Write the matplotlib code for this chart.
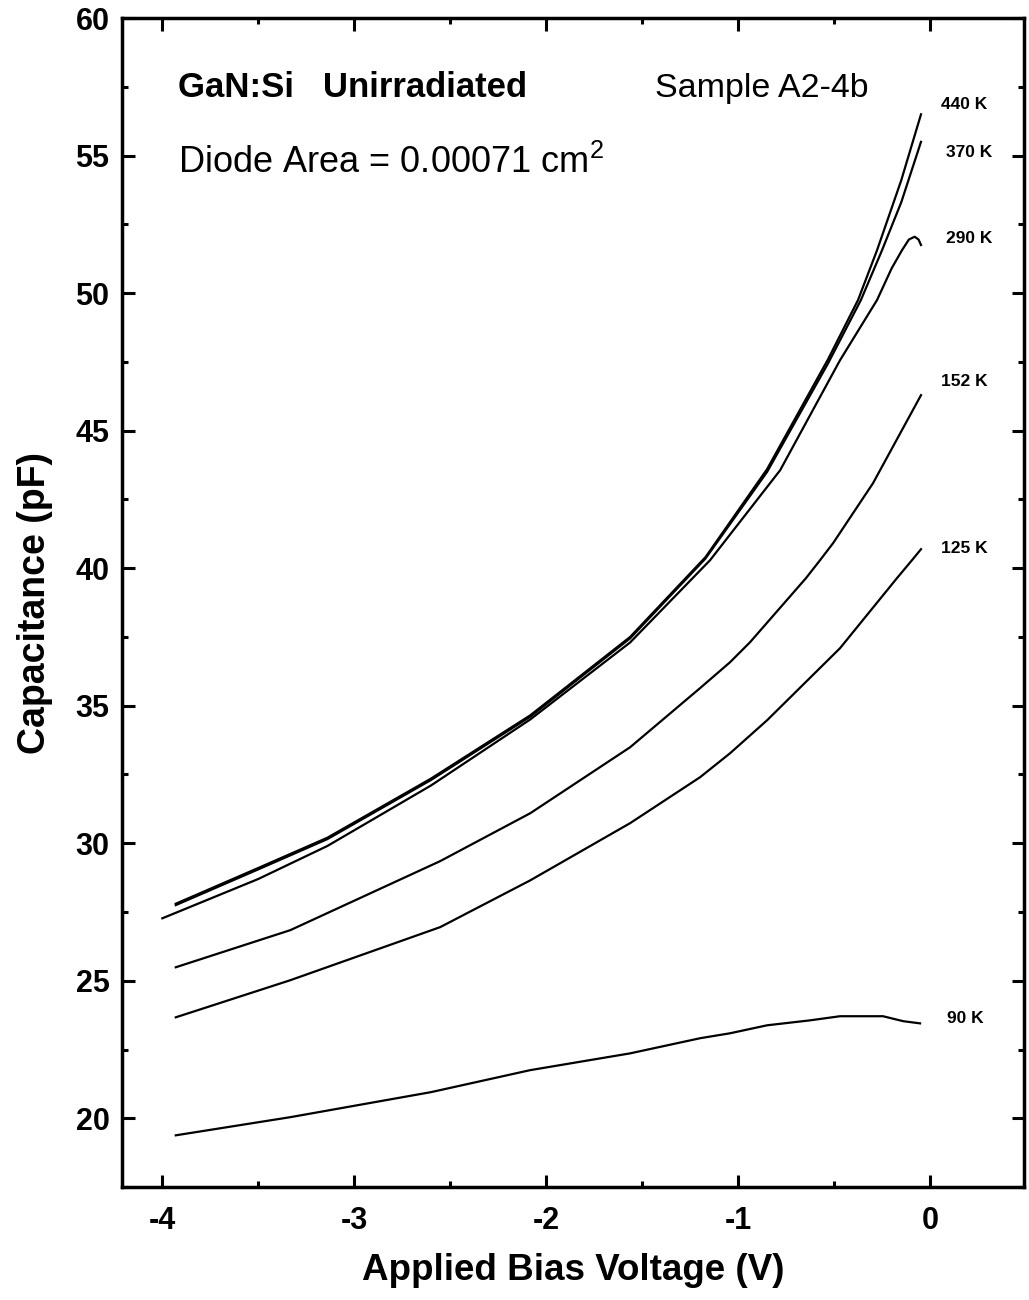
import numpy as np
import matplotlib.pyplot as plt
from matplotlib.ticker import MultipleLocator

plt.rcParams['font.family'] = ['Liberation Sans', 'DejaVu Sans']
plt.rcParams['axes.unicode_minus'] = False

# Capacitance vs bias
v_440 = [-3.93, -3.5, -3.14, -2.6, -2.083, -1.5625, -1.17, -0.849, -0.531, -0.375, -0.276, -0.15, -0.047]
c_440 = [27.8, 29.1, 30.2, 32.35, 34.65, 37.5, 40.4, 43.6, 47.6, 49.75, 51.56, 54.1, 56.5]

v_370 = [-3.93, -3.5, -3.14, -2.6, -2.083, -1.5625, -1.17, -0.849, -0.531, -0.36, -0.25, -0.15, -0.047]
c_370 = [27.75, 29.05, 30.15, 32.3, 34.6, 37.45, 40.35, 43.5, 47.45, 49.75, 51.56, 53.3, 55.5]

v_290 = [-4.0, -3.5, -3.14, -2.6, -2.083, -1.5625, -1.146, -0.781, -0.469, -0.276, -0.2, -0.146, -0.11, -0.08, -0.06, -0.047]
c_290 = [27.27, 28.7, 29.9, 32.1, 34.5, 37.3, 40.29, 43.56, 47.56, 49.75, 50.9, 51.56, 51.95, 52.05, 51.95, 51.75]

v_152 = [-3.93, -3.333, -2.552, -2.083, -1.5625, -1.198, -1.042, -0.9375, -0.646, -0.573, -0.505, -0.297, -0.047]
c_152 = [25.49, 26.84, 29.35, 31.09, 33.49, 35.64, 36.58, 37.31, 39.64, 40.29, 40.91, 43.09, 46.29]

v_125 = [-3.93, -3.333, -2.552, -2.083, -1.5625, -1.198, -1.042, -0.849, -0.469, -0.172, -0.094, -0.047]
c_125 = [23.67, 25.02, 26.95, 28.65, 30.73, 32.4, 33.27, 34.47, 37.09, 39.64, 40.29, 40.69]

v_90 = [-3.93, -3.333, -2.6, -2.083, -1.5625, -1.198, -1.042, -0.849, -0.625, -0.469, -0.245, -0.14, -0.052]
c_90 = [19.38, 20.04, 20.95, 21.75, 22.36, 22.91, 23.09, 23.38, 23.56, 23.71, 23.71, 23.53, 23.45]

curve_labels = ['440 K', '370 K', '290 K', '152 K', '125 K', '90 K']
label_x = [0.057, 0.083, 0.083, 0.057, 0.057, 0.09]
label_y = [56.84, 55.13, 52.0, 46.8, 40.73, 23.64]

fig = plt.figure(figsize=(10.29, 13), dpi=100)
ax = fig.add_axes([0.1186, 0.0869, 0.8766, 0.8992])

for v, c in [(v_440, c_440), (v_370, c_370), (v_290, c_290),
             (v_152, c_152), (v_125, c_125), (v_90, c_90)]:
    ax.plot(v, c, color='black', linewidth=1.6)

for lab, lx, ly in zip(curve_labels, label_x, label_y):
    ax.text(lx, ly, lab, fontsize=12.5, fontweight='bold', va='center', ha='left')

ax.text(-3.917, 57.13, 'GaN:Si   Unirradiated', fontsize=25, fontweight='bold')
ax.text(-3.917, 54.36, r'Diode Area = 0.00071 cm$^{\mathregular{2}}$', fontsize=26)
ax.text(-1.432, 57.14, 'Sample A2-4b', fontsize=24.5)

ax.set_xlim(-4.21, 0.49)
ax.set_ylim(17.5, 60)
ax.xaxis.set_major_locator(MultipleLocator(1))
ax.xaxis.set_minor_locator(MultipleLocator(0.5))
ax.yaxis.set_major_locator(MultipleLocator(5))
ax.yaxis.set_minor_locator(MultipleLocator(2.5))

ax.tick_params(which='both', direction='in', top=True, right=True, width=2.2)
ax.tick_params(which='major', length=9)
ax.tick_params(which='minor', length=4.5)
ax.tick_params(axis='x', which='major', pad=14, labelsize=22)
ax.tick_params(axis='y', which='major', pad=9, labelsize=22)
for lbl in ax.get_xticklabels() + ax.get_yticklabels():
    lbl.set_fontweight('bold')

for s in ax.spines.values():
    s.set_linewidth(2.5)

ax.set_xlabel('Applied Bias Voltage (V)', fontsize=26.5, fontweight='bold', labelpad=12)
ax.set_ylabel('Capacitance (pF)', fontsize=27, fontweight='bold', labelpad=16)

plt.savefig('out.png', dpi=100)
